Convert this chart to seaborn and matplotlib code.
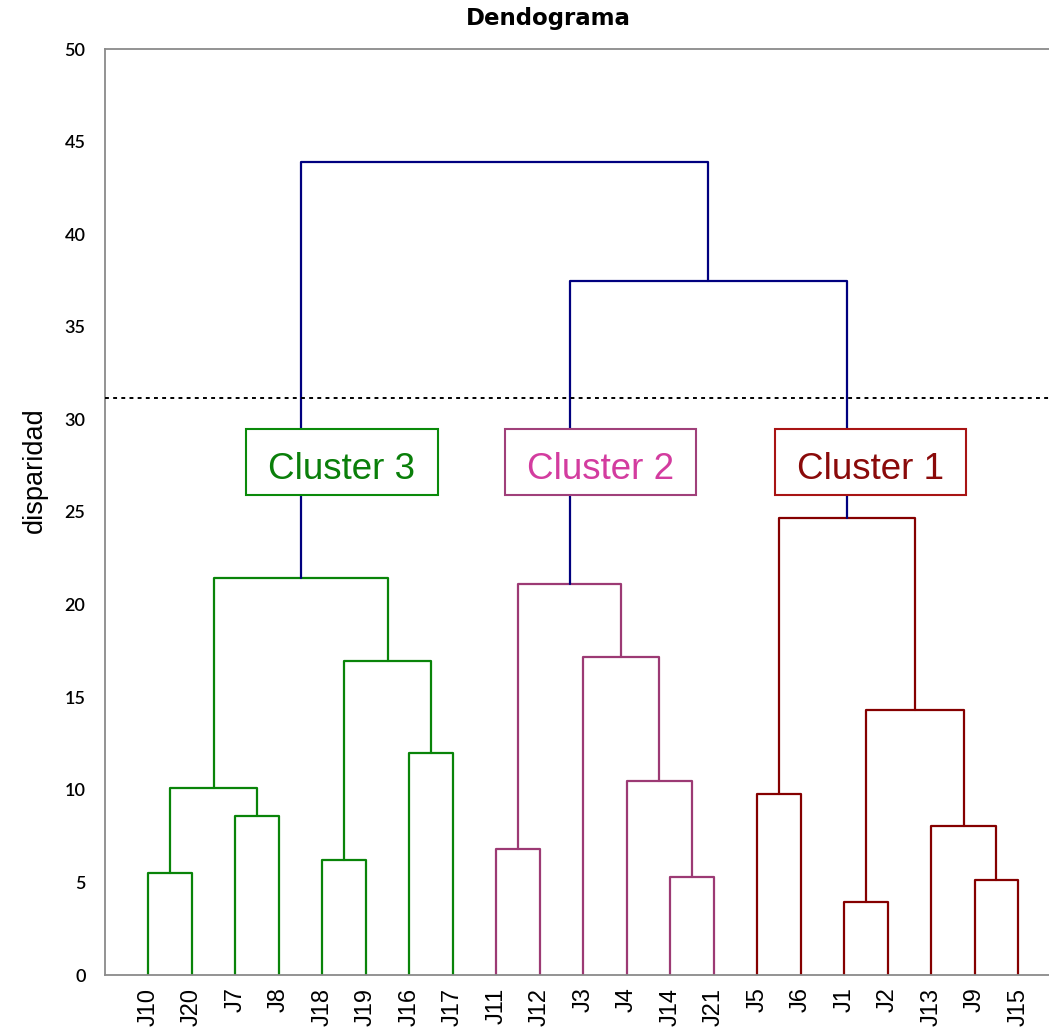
import matplotlib
matplotlib.use("Agg")
import matplotlib.pyplot as plt
import seaborn as sns
import pandas as pd
from matplotlib.patches import Rectangle

# ---- data ----
leaves = ["J10", "J20", "J7", "J8", "J18", "J19", "J16", "J17",
          "J11", "J12", "J3", "J4", "J14", "J21",
          "J5", "J6", "J1", "J2", "J13", "J9", "J15"]

merge_names = ["a1", "a2", "a3", "a4", "a5", "a6", "C3",
               "b1", "b2", "b3", "b4", "C2",
               "d1", "d2", "d3", "d4", "d5", "C1",
               "e1", "root"]
merge_left = ["J10", "J7", "a1", "J18", "J16", "a4", "a3",
              "J11", "J14", "J4", "J3", "b1",
              "J5", "J1", "J9", "J13", "d2", "d1",
              "C2", "C3"]
merge_right = ["J20", "J8", "a2", "J19", "J17", "a5", "a6",
               "J12", "J21", "b2", "b3", "b4",
               "J6", "J2", "J15", "d3", "d4", "d5",
               "C1", "e1"]
merge_height = [5.5, 8.6, 10.1, 6.2, 12.0, 16.95, 21.45,
                6.8, 5.3, 10.45, 17.15, 21.1,
                9.8, 3.95, 5.15, 8.05, 14.3, 24.65,
                37.5, 43.9]
merge_group = ["c3"] * 7 + ["c2"] * 5 + ["c1"] * 6 + ["top"] * 2

cut_height = 31.15
cluster_labels = ["Cluster 3", "Cluster 2", "Cluster 1"]
cluster_groups = ["c3", "c2", "c1"]
y_ticks = [0, 5, 10, 15, 20, 25, 30, 35, 40, 45, 50]

line_colors = {"c3": "#098409", "c2": "#9c3a74", "c1": "#850000", "top": "#00007f"}
box_edge = {"c3": "#0a8a0a", "c2": "#a0407a", "c1": "#a81414"}
text_colors = {"c3": "#0a7f0a", "c2": "#d33c9f", "c1": "#8a0a0a"}

# ---- build link coordinates ----
pos = {name: float(i) for i, name in enumerate(leaves)}
hgt = {name: 0.0 for name in leaves}
rows = []
for name, l, r, h, g in zip(merge_names, merge_left, merge_right, merge_height, merge_group):
    xl, xr = pos[l], pos[r]
    pts = [(xl, hgt[l]), (xl, h), (xr, h), (xr, hgt[r])]
    for k, (x, y) in enumerate(pts):
        rows.append({"x": x, "y": y, "link": name, "group": g, "order": k})
    pos[name] = (xl + xr) / 2
    hgt[name] = h
df = pd.DataFrame(rows)

# ---- plot ----
sns.set_style("white")
fig = plt.figure(figsize=(10.49, 10.27), dpi=100)
ax = fig.add_axes([105 / 1049, 1 - 975 / 1027, 1 - 105 / 1049, (975 - 49) / 1027])

sns.lineplot(data=df, x="x", y="y", units="link", hue="group", estimator=None,
             sort=False, palette=line_colors, legend=False, linewidth=1.6, ax=ax)

ax.axhline(cut_height, color="black", linestyle=(0, (2, 2.2)), linewidth=1.4, zorder=3)

# cluster label boxes
box_w, box_h, box_cy = 4.4, 3.56, 27.7
for lab, g in zip(cluster_labels, cluster_groups):
    cx = {"c3": 4.45, "c2": 10.40, "c1": 16.61}[g]
    ax.add_patch(Rectangle((cx - box_w / 2, box_cy - box_h / 2), box_w, box_h,
                           facecolor="white", edgecolor=box_edge[g], linewidth=1.5, zorder=5))
    ax.text(cx, box_cy - 0.18, lab, ha="center", va="center_baseline", fontsize=26.5,
            family="Liberation Sans", color=text_colors[g], zorder=6)

ax.set_xlim(-1, 20.71)
ax.set_ylim(0, 50)
ax.set_yticks(y_ticks)
ax.set_yticklabels([str(t) for t in y_ticks], fontsize=13, family="Lato",
                   fontweight="semibold", color="black")
ax.set_xticks(range(len(leaves)))
ax.set_xticklabels(leaves, rotation=90, fontsize=17, family="Liberation Sans", color="black")
ax.tick_params(axis="y", direction="inout", length=14, width=1, color="#888888", pad=7)
ax.tick_params(axis="x", length=0, pad=9)
ax.set_xlabel("")
ax.set_ylabel("")

for side in ["left", "top", "bottom"]:
    ax.spines[side].set_color("#8a8a8a")
    ax.spines[side].set_linewidth(1.3)
ax.spines["right"].set_visible(False)

fig.text(548 / 1049, 1 - 18 / 1027, "Dendograma", ha="center", va="center",
         fontsize=16.5, fontweight="bold", family="DejaVu Sans", color="black")
fig.text(35 / 1049, 1 - 470 / 1027, "disparidad", ha="center", va="center",
         rotation=90, fontsize=19.5, family="Liberation Sans", color="black")

fig.savefig("out.png", dpi=100)
